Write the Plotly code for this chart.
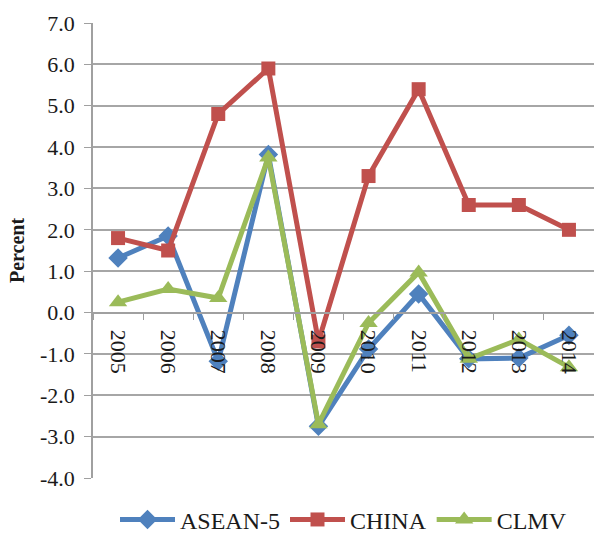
import plotly.graph_objects as go

# Annual growth differentials, percent
years = ["2005", "2006", "2007", "2008", "2009", "2010", "2011", "2012", "2013", "2014"]
asean5 = [1.32, 1.85, -1.18, 3.82, -2.75, -0.88, 0.45, -1.12, -1.10, -0.55]
china = [1.80, 1.50, 4.80, 5.90, -0.70, 3.30, 5.40, 2.60, 2.60, 2.00]
clmv = [0.25, 0.57, 0.35, 3.75, -2.70, -0.25, 0.97, -1.12, -0.65, -1.32]

y_ticks = [7, 6, 5, 4, 3, 2, 1, 0, -1, -2, -3, -4]
y_tick_text = ["%.1f" % v if v >= 0 else "-%.1f" % abs(v) for v in y_ticks]

FONT = "Liberation Serif"
series = [
    ("ASEAN-5", asean5, "#4F81BD", "diamond", 15),
    ("CHINA", china, "#C0504D", "square", 14),
    ("CLMV", clmv, "#9BBB59", "triangle-up", 16),
]

fig = go.Figure()
for name, vals, color, symbol, size in series:
    fig.add_trace(go.Scatter(
        x=years, y=vals, name=name, mode="lines+markers",
        line=dict(color=color, width=5),
        marker=dict(symbol=symbol, size=size, color=color),
    ))

fig.update_layout(
    width=594, height=535,
    margin=dict(l=93, r=0, t=23, b=57, autoexpand=False),
    plot_bgcolor="white", paper_bgcolor="white",
    font=dict(family=FONT, size=22, color="#1a1a1a"),
    showlegend=True,
    legend=dict(orientation="h", x=0.5, xanchor="center", y=-0.092, yanchor="middle",
                font=dict(family=FONT, size=24), itemwidth=55, tracegroupgap=0),
    xaxis=dict(
        type="category", range=[-0.5, 9.5], anchor="free", position=4 / 11, automargin=False,
        showline=True, linecolor="#A0A0A0", linewidth=1.5,
        ticks="outside", tickson="boundaries", ticklen=7, tickcolor="#A0A0A0",
        tickangle=90, showgrid=False, zeroline=False, ticklabelstandoff=12,
        tickfont=dict(family=FONT, size=22),
    ),
    yaxis=dict(
        range=[-4, 7], tickvals=y_ticks, ticktext=y_tick_text, automargin=False,
        showgrid=True, gridcolor="#A6A6A6", gridwidth=1.5,
        showline=True, linecolor="#A0A0A0", linewidth=1.5,
        ticks="outside", ticklen=7, tickcolor="#A0A0A0",
        zeroline=False, ticklabelstandoff=5,
        tickfont=dict(family=FONT, size=22),
        title=dict(text="<b>Percent</b>", font=dict(family=FONT, size=20), standoff=10),
    ),
)

fig.write_html("out.html")
